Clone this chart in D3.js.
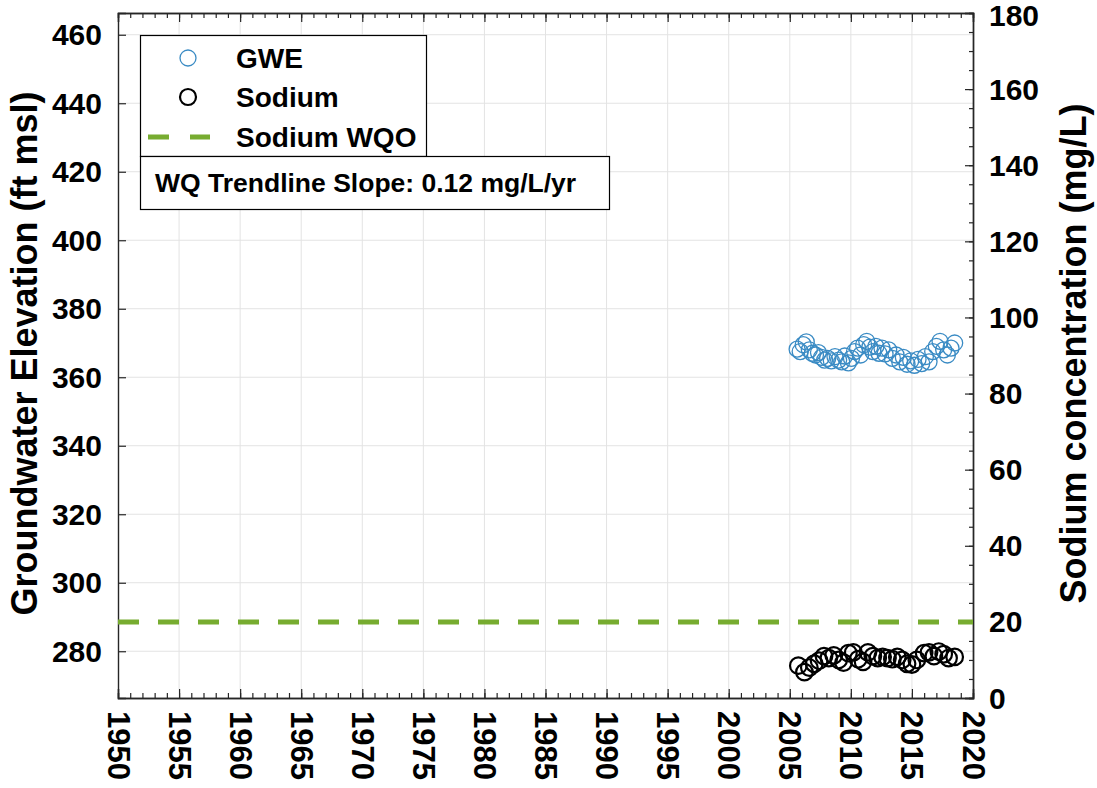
<!DOCTYPE html>
<html>
<head>
<meta charset="utf-8">
<script src="https://cdn.jsdelivr.net/npm/d3@7"></script>
<style>
  html, body { margin: 0; padding: 0; background: #fff; }
  svg { display: block; }
  text { font-family: "Liberation Sans", Arial, Helvetica, sans-serif; font-weight: bold; fill: #000; }
</style>
</head>
<body>
<svg id="chart" width="1097" height="788"></svg>
<script>
// ---- Data ----
const gweDates = [2005.60, 2005.85, 2006.10, 2006.35, 2006.60, 2006.85, 2007.10, 2007.35, 2007.60, 2007.85,
  2008.10, 2008.40, 2008.70, 2009.00, 2009.25, 2009.50, 2009.80, 2010.05, 2010.30, 2010.55,
  2010.80, 2011.05, 2011.30, 2011.55, 2011.80, 2012.05, 2012.30, 2012.55, 2012.80, 2013.10,
  2013.40, 2013.70, 2014.00, 2014.30, 2014.60, 2014.90, 2015.20, 2015.50, 2015.80, 2016.10,
  2016.40, 2016.70, 2017.00, 2017.30, 2017.60, 2017.90, 2018.20, 2018.50];
const gweValues = [368.2, 367.5, 369.5, 370.3, 368.0, 367.0, 366.5, 367.2, 365.8, 365.0,
  365.5, 364.8, 366.0, 365.0, 364.5, 366.2, 364.2, 365.5, 367.5, 368.5,
  366.5, 369.5, 370.5, 368.8, 367.5, 369.0, 367.0, 368.5, 366.8, 368.0,
  365.5, 366.5, 364.5, 365.8, 363.8, 364.8, 363.5, 365.2, 364.0, 366.0,
  364.5, 367.5, 369.0, 370.5, 368.0, 366.5, 368.5, 370.0];

const sodiumDates = [2005.70, 2006.20, 2006.60, 2007.00, 2007.40, 2007.80, 2008.20, 2008.60, 2009.00, 2009.40,
  2009.80, 2010.20, 2010.60, 2011.00, 2011.40, 2011.80, 2012.20, 2012.60, 2013.00, 2013.40,
  2013.80, 2014.20, 2014.60, 2015.00, 2015.40, 2016.00, 2016.40, 2016.80, 2017.20, 2017.60,
  2018.00, 2018.50];
const sodiumValues = [8.5, 6.8, 8.0, 9.0, 9.8, 11.0, 10.5, 11.2, 10.0, 9.3,
  11.8, 12.0, 10.2, 9.5, 12.0, 11.0, 10.5, 10.8, 10.5, 10.2,
  10.8, 10.0, 9.0, 8.8, 10.0, 11.8, 12.0, 11.0, 12.2, 11.5,
  10.5, 10.8];

const sodiumWQO = 20;
const xTicks = [1950, 1955, 1960, 1965, 1970, 1975, 1980, 1985, 1990, 1995, 2000, 2005, 2010, 2015, 2020];
const leftTicks = [280, 300, 320, 340, 360, 380, 400, 420, 440, 460];
const rightTicks = [0, 20, 40, 60, 80, 100, 120, 140, 160, 180];
const legendLabels = ["GWE", "Sodium", "Sodium WQO"];
const trendText = "WQ Trendline Slope: 0.12 mg/L/yr";
const leftTitle = "Groundwater Elevation (ft msl)";
const rightTitle = "Sodium concentration (mg/L)";

// ---- Layout ----
const L = 118, R = 973, T = 13, B = 698;
const svg = d3.select("#chart");
const axisColor = "#262626";
const gweColor = "#3a8bc4";
const wqoColor = "#77ac30";

const x = d3.scaleLinear().domain([1950, 2020]).range([L, R]);
const yL = d3.scaleLinear().domain([266.35, 466.35]).range([B, T]);
const yR = d3.scaleLinear().domain([0, 180]).range([B, T]);

// Grid
const grid = svg.append("g");
grid.selectAll("line.vx").data(xTicks.slice(1, -1)).enter().append("line")
  .attr("x1", d => x(d)).attr("x2", d => x(d)).attr("y1", T).attr("y2", B)
  .attr("stroke", "#e3e3e3").attr("stroke-width", 1);
grid.selectAll("line.hy").data(leftTicks).enter().append("line")
  .attr("x1", L).attr("x2", R).attr("y1", d => yL(d)).attr("y2", d => yL(d))
  .attr("stroke", "#e3e3e3").attr("stroke-width", 1);

// Axes
const minorX = d3.range(1950, 2021, 1);
const minorR = d3.range(0, 181, 5);

const bottomAxis = d3.axisBottom(x).tickValues(minorX).tickSize(-5).tickFormat("");
const bottomMajor = d3.axisBottom(x).tickValues(xTicks).tickSize(-9).tickFormat("");
const topAxis = d3.axisTop(x).tickValues(minorX).tickSize(-5).tickFormat("");
const topMajor = d3.axisTop(x).tickValues(xTicks).tickSize(-9).tickFormat("");
const leftAxis = d3.axisLeft(yL).tickValues(leftTicks).tickSize(-8).tickFormat("");
const rightMinor = d3.axisRight(yR).tickValues(minorR).tickSize(-4).tickFormat("");
const rightMajor = d3.axisRight(yR).tickValues(rightTicks).tickSize(-8).tickFormat("");

function styleAxis(g) {
  g.selectAll("path").attr("stroke", axisColor).attr("stroke-width", 1.4);
  g.selectAll("line").attr("stroke", axisColor).attr("stroke-width", 1.2);
}
svg.append("g").attr("transform", `translate(0,${B})`).call(bottomAxis).call(styleAxis);
svg.append("g").attr("transform", `translate(0,${B})`).call(bottomMajor).call(styleAxis);
svg.append("g").attr("transform", `translate(0,${T})`).call(topAxis).call(styleAxis);
svg.append("g").attr("transform", `translate(0,${T})`).call(topMajor).call(styleAxis);
svg.append("g").attr("transform", `translate(${L},0)`).call(leftAxis).call(styleAxis);
svg.append("g").attr("transform", `translate(${R},0)`).call(rightMinor).call(styleAxis);
svg.append("g").attr("transform", `translate(${R},0)`).call(rightMajor).call(styleAxis);

// Tick labels
svg.append("g").selectAll("text").data(xTicks).enter().append("text")
  .attr("transform", d => `translate(${x(d)},${B + 13}) rotate(90)`)
  .attr("text-anchor", "start").attr("dominant-baseline", "central")
  .style("font-size", "31px").attr("fill", "#262626")
  .text(d => d);
svg.append("g").selectAll("text").data(leftTicks).enter().append("text")
  .attr("x", L - 16).attr("y", d => yL(d)).attr("text-anchor", "end").attr("dominant-baseline", "central")
  .style("font-size", "30px").attr("fill", "#262626")
  .text(d => d);
svg.append("g").selectAll("text").data(rightTicks).enter().append("text")
  .attr("x", R + 16).attr("y", d => yR(d) + (d === 180 ? 2 : 0)).attr("text-anchor", "start").attr("dominant-baseline", "central")
  .style("font-size", "30px").attr("fill", "#262626")
  .text(d => d);

// Axis titles
svg.append("text").attr("transform", `translate(37,${(T + B) / 2 - 2}) rotate(-90)`)
  .attr("text-anchor", "middle").style("font-size", "36px").text(leftTitle);
svg.append("text").attr("transform", `translate(1086,${(T + B) / 2 - 2}) rotate(-90)`)
  .attr("text-anchor", "middle").style("font-size", "36px").text(rightTitle);

// WQO line
svg.append("line").attr("x1", L).attr("x2", R).attr("y1", yR(sodiumWQO)).attr("y2", yR(sodiumWQO))
  .attr("stroke", wqoColor).attr("stroke-width", 5).attr("stroke-dasharray", "21,19");

// Data points
const gweData = gweDates.map((d, i) => ({ x: d, y: gweValues[i] }));
const naData = sodiumDates.map((d, i) => ({ x: d, y: sodiumValues[i] }));
svg.append("g").selectAll("circle").data(gweData).enter().append("circle")
  .attr("cx", d => x(d.x)).attr("cy", d => yL(d.y)).attr("r", 8)
  .attr("fill", "none").attr("stroke", gweColor).attr("stroke-width", 1.3);
svg.append("g").selectAll("circle").data(naData).enter().append("circle")
  .attr("cx", d => x(d.x)).attr("cy", d => yR(d.y)).attr("r", 8.3)
  .attr("fill", "none").attr("stroke", "#000").attr("stroke-width", 2.2);

// Legend
const lg = svg.append("g");
lg.append("rect").attr("x", 140.5).attr("y", 35.5).attr("width", 286).attr("height", 121)
  .attr("fill", "#fff").attr("stroke", "#000").attr("stroke-width", 1.2);
const rowsY = [58, 97, 137];
lg.append("circle").attr("cx", 188).attr("cy", rowsY[0]).attr("r", 8)
  .attr("fill", "none").attr("stroke", gweColor).attr("stroke-width", 1.3);
lg.append("circle").attr("cx", 188).attr("cy", rowsY[1]).attr("r", 8)
  .attr("fill", "none").attr("stroke", "#000").attr("stroke-width", 2.2);
lg.append("line").attr("x1", 148).attr("x2", 210).attr("y1", rowsY[2]).attr("y2", rowsY[2])
  .attr("stroke", wqoColor).attr("stroke-width", 5).attr("stroke-dasharray", "21,21");
lg.selectAll("text.lab").data(legendLabels).enter().append("text")
  .attr("x", 236).attr("y", (d, i) => rowsY[i]).attr("dominant-baseline", "central")
  .style("font-size", "28px").text(d => d);

lg.append("rect").attr("x", 140.5).attr("y", 156.5).attr("width", 469).attr("height", 53)
  .attr("fill", "#fff").attr("stroke", "#000").attr("stroke-width", 1.2);
lg.append("text").attr("x", 155).attr("y", 183).attr("dominant-baseline", "central")
  .style("font-size", "26.5px").text(trendText);
</script>
</body>
</html>
